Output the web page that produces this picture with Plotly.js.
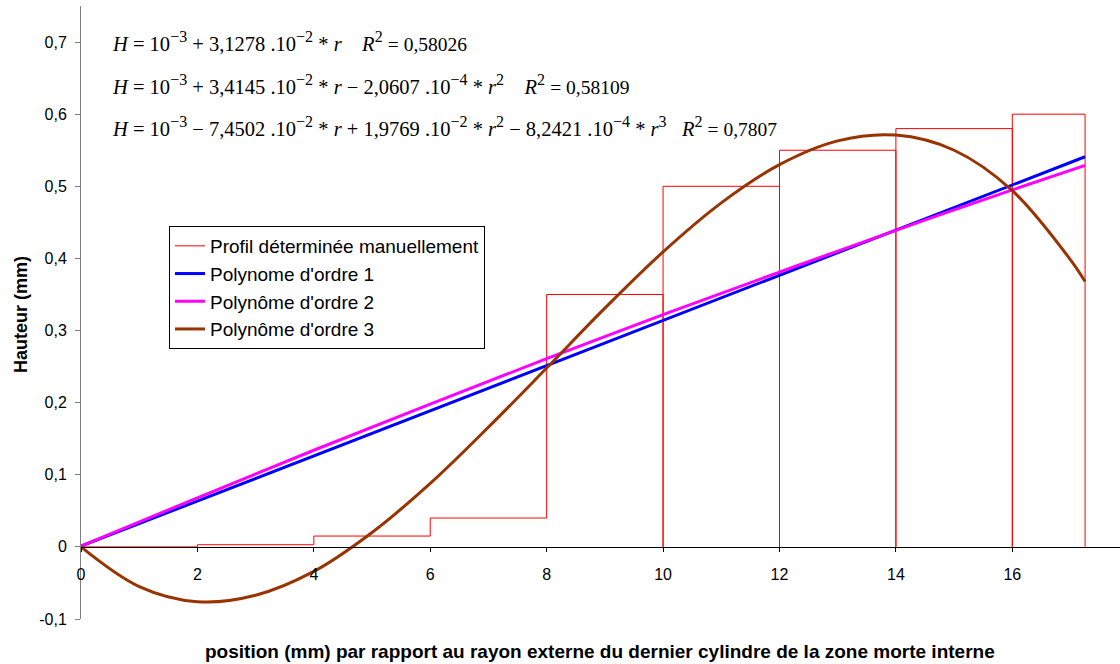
<!DOCTYPE html>
<html><head><meta charset="utf-8">
<script src="https://cdn.plot.ly/plotly-3.0.1.min.js"></script>
<style>html,body{margin:0;padding:0;background:#fff;}#chart{width:1120px;height:664px;}</style>
</head><body><div id="chart"></div>
<script>
// Manual profile (step outline)
const profileX = [0,2,2,4,4,6,6,8,8,10,10,10,12,12,12,14,14,14,16,16,16,17.25,17.25];
const profileY = [0,0,0.003,0.003,0.015,0.015,0.04,0.04,0.35,0.35,0,0.5,0.5,0,0.55,0.55,0,0.58,0.58,0,0.6,0.6,0];
// Order 1 fit
const poly1X = [0, 17.25];
const poly1Y = [0.001, 0.541];
// Order 2 fit
const poly2X = [0,2,4,6,8,10,12,14,16,17.25];
const poly2Y = [0.001,0.068,0.134,0.198,0.261,0.322,0.381,0.439,0.495,0.529];
// Order 3 fit
const poly3X = [0,1,2,3,4,5,6,7,8,9,10,11,12,13,14,15,16,17,17.25];
const poly3Y = [0,-0.055,-0.076,-0.067,-0.034,0.020,0.088,0.166,0.248,0.331,0.409,0.477,0.530,0.563,0.571,0.550,0.494,0.398,0.368];
const legendNames = ["Profil déterminée manuellement","Polynome d'ordre 1","Polynôme d'ordre 2","Polynôme d'ordre 3"];
const yTicks = [-0.1,0,0.1,0.2,0.3,0.4,0.5,0.6,0.7];
const xTicks = [0,2,4,6,8,10,12,14,16];

const eqFont = {family:'"Liberation Serif", "Times New Roman", serif', size:20.5, color:'#000'};
const nb = '\u00a0';
const rsz = (t)=>'<span style="font-size:19.5px">'+t+'</span>';
const sp = (t)=>'<sup><span style="font-size:16px">'+t+'</span></sup>';
const eq1 = '<i>H</i> = 10'+sp('−3')+' + 3,1278 .10'+sp('−2')+' * <i>r</i>'+nb+nb+nb+nb+'<i>R</i>'+sp('2')+' '+rsz('= 0,58026');
const eq2 = '<i>H</i> = 10'+sp('−3')+' + 3,4145 .10'+sp('−2')+' * <i>r</i> − 2,0607 .10'+sp('−4')+' * <i>r</i>'+sp('2')+nb+nb+nb+nb+'<i>R</i>'+sp('2')+' '+rsz('= 0,58109');
const eq3 = '<i>H</i> = 10'+sp('−3')+' − 7,4502 .10'+sp('−2')+' * <i>r</i> + 1,9769 .10'+sp('−2')+' * <i>r</i>'+sp('2')+' − 8,2421 .10'+sp('−4')+' * <i>r</i>'+sp('3')+nb+nb+nb+'<i>R</i>'+sp('2')+' '+rsz('= 0,7807');

const yMin = -0.1, yMax = 0.75;
const traces = [
  {x:profileX, y:profileY, mode:'lines', name:legendNames[0], line:{color:'#ff0000', width:1}},
  {x:poly1X, y:poly1Y, mode:'lines', name:legendNames[1], line:{color:'#0000ff', width:3}},
  {x:poly2X, y:poly2Y, mode:'lines', name:legendNames[2], line:{color:'#ff00ff', width:3, shape:'spline'}},
  {x:poly3X, y:poly3Y, mode:'lines', name:legendNames[3], line:{color:'#993300', width:3, shape:'spline', smoothing:1}}
];
const layout = {
  width:1120, height:664,
  margin:{l:81, r:0, t:6, b:45, pad:0},
  paper_bgcolor:'#fff', plot_bgcolor:'#fff',
  separators:',.',
  showlegend:true,
  font:{family:'"Liberation Sans", Arial, sans-serif', color:'#000'},
  xaxis:{range:[0,17.85], anchor:'free', position:(0-yMin)/(yMax-yMin),
    tickmode:'array', tickvals:xTicks, ticktext:xTicks.map(String),
    showline:true, linecolor:'#000', linewidth:1, ticks:'outside', ticklen:4, tickcolor:'#000',
    ticklabelstandoff:9,
    showgrid:false, zeroline:false, tickfont:{size:16, color:'#000'}},
  yaxis:{range:[yMin,yMax], tickmode:'array', tickvals:yTicks,
    ticktext:yTicks.map(v=>v===0?'0':String(v).replace('.',',')),
    showline:true, linecolor:'#808080', linewidth:1, ticks:'outside', ticklen:5, tickcolor:'#808080',
    ticklabelstandoff:5,
    showgrid:false, zeroline:false, tickfont:{size:16, color:'#000'}},
  legend:{x:(169-81)/1039, y:(619-226)/613, xanchor:'left', yanchor:'top',
    bgcolor:'#fff', bordercolor:'#000', borderwidth:1, font:{size:19, color:'#000'}, itemwidth:30,
    tracegroupgap:0},
  annotations:[
    {xref:'paper', yref:'paper', x:(600-81)/1039, y:(619-651)/613, xanchor:'center', yanchor:'middle',
      text:'<b>position (mm) par rapport au rayon externe du dernier cylindre de la zone morte interne</b>',
      showarrow:false, font:{size:19, color:'#000'}},
    {xref:'paper', yref:'paper', x:(21-81)/1039, y:(619-315)/613, xanchor:'center', yanchor:'middle', textangle:-90,
      text:'<b>Hauteur (mm)</b>', showarrow:false, font:{size:18, color:'#000'}},
    {xref:'paper', yref:'paper', x:(110-81)/1039, y:(619-41)/613, xanchor:'left', yanchor:'middle', text:eq1, showarrow:false, font:eqFont},
    {xref:'paper', yref:'paper', x:(110-81)/1039, y:(619-84)/613, xanchor:'left', yanchor:'middle', text:eq2, showarrow:false, font:eqFont},
    {xref:'paper', yref:'paper', x:(110-81)/1039, y:(619-127)/613, xanchor:'left', yanchor:'middle', text:eq3, showarrow:false, font:eqFont}
  ]
};
Plotly.newPlot('chart', traces, layout, {displayModeBar:false, staticPlot:true});
</script></body></html>
